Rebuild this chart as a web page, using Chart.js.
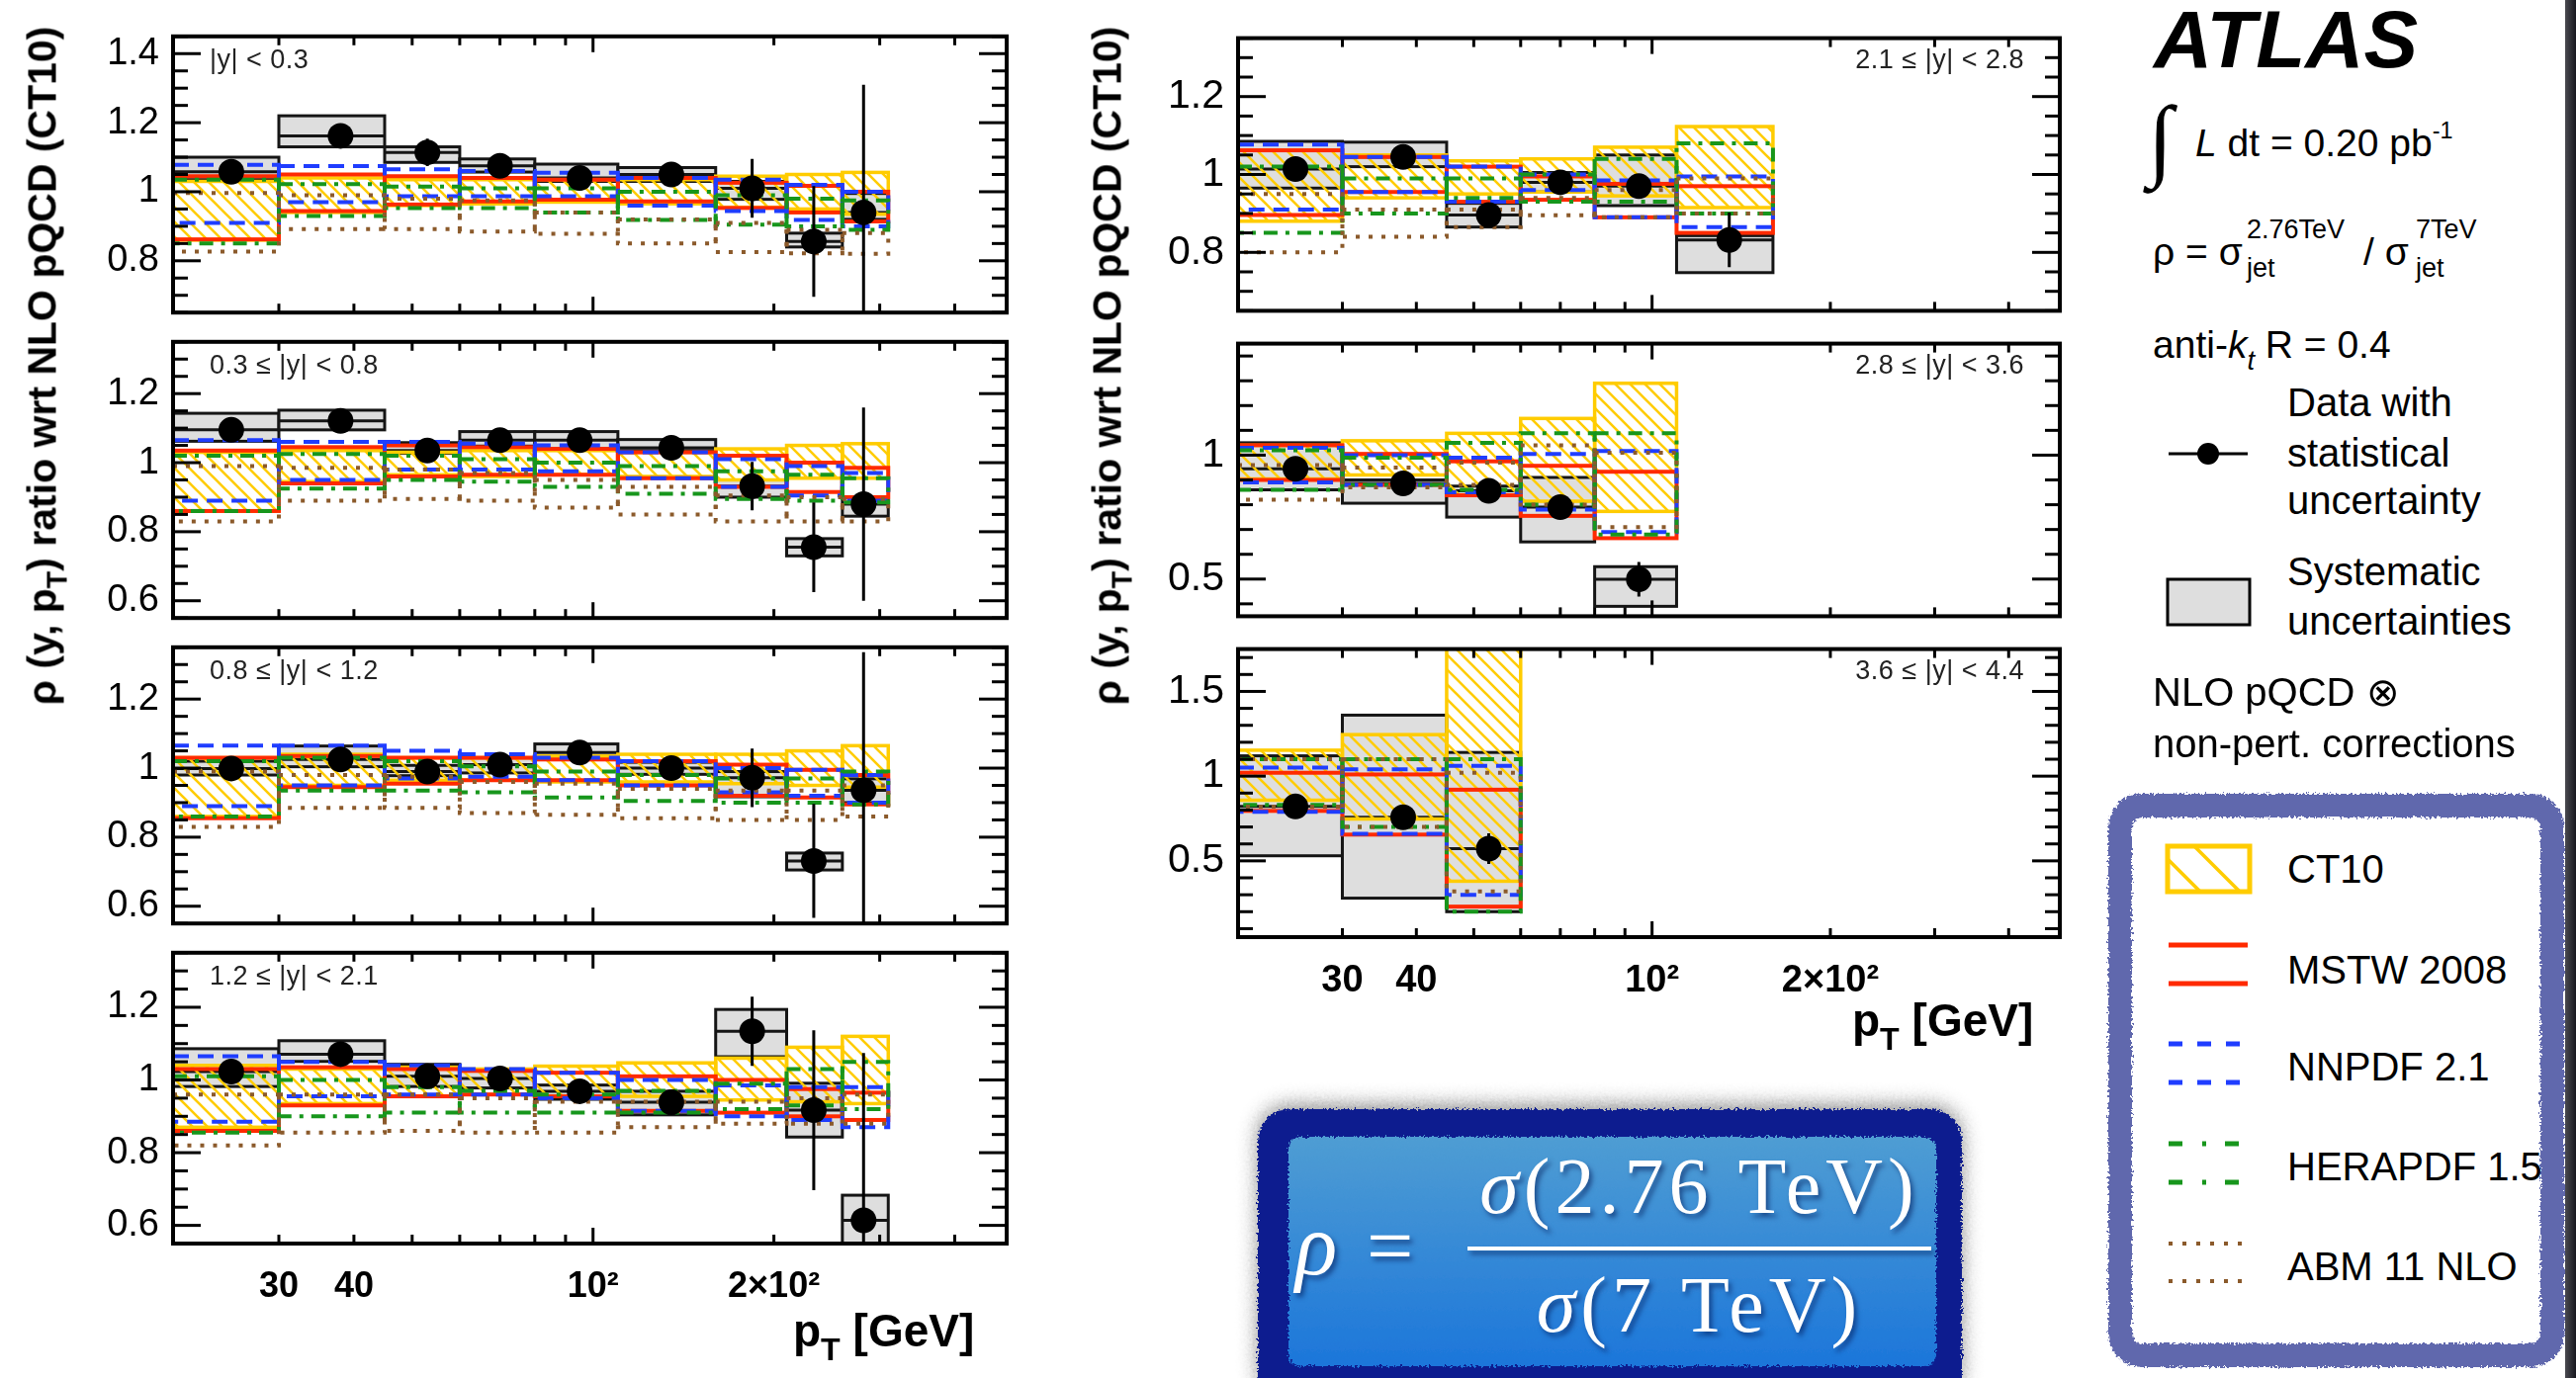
<!DOCTYPE html>
<html>
<head>
<meta charset="utf-8">
<title>Inclusive jet cross-section ratio 2.76 TeV / 7 TeV</title>
<script src="https://cdn.jsdelivr.net/npm/chart.js@4.4.1/dist/chart.umd.min.js"></script>
<style>
  html, body { margin: 0; padding: 0; background: #fff; overflow: hidden; }
  #page { position: relative; width: 2605px; height: 1394px; overflow: hidden; background: #fff;
          font-family: "Liberation Sans", Arial, Helvetica, sans-serif; color: #000; }
  canvas.pad { position: absolute; }
  .txt { position: absolute; white-space: nowrap; line-height: 1; }
  .txt sub { font-size: 0.7em; vertical-align: -0.45em; line-height: 0; }
  .txt sup { font-size: 0.6em; vertical-align: 0.75em; line-height: 0; }
  .ytitle { position: absolute; white-space: nowrap; font-weight: bold; font-size: 41px; line-height: 1;
            transform: translate(-50%, -50%) rotate(-90deg); }
  .ytitle sub { font-size: 0.7em; vertical-align: -0.4em; line-height: 0; }
  .rap { font-size: 27px; color: #222; letter-spacing: 0.5px; }
  #legendFrame { position: absolute; left: 2132px; top: 803px; width: 461px; height: 580px; box-sizing: border-box;
                 border: 24px solid #6068ad; border-radius: 34px; background: #fff; filter: url(#rough); }
  #formulaOuter { position: absolute; left: 1272px; top: 1122px; width: 712px; height: 300px; border-radius: 32px;
                  background: #0b1f8f; box-shadow: 0 -4px 20px rgba(0,0,0,0.45); filter: url(#rough); }
  #formulaInner { position: absolute; left: 1303px; top: 1150px; width: 655px; height: 232px; border-radius: 12px;
                  background: linear-gradient(#4f9dd3, #1c76da); filter: url(#rough); }
  .tex { position: absolute; white-space: nowrap; line-height: 1; color: #fff;
         font-family: "Liberation Serif", "DejaVu Serif", serif; text-shadow: 3px 4px 5px rgba(0, 20, 80, 0.55); }
  #fracBar { position: absolute; left: 1484px; top: 1261px; width: 469px; height: 4px; background: #fff;
             box-shadow: 3px 4px 5px rgba(0, 20, 80, 0.55); }
  #edge { position: absolute; left: 2594px; top: 0; width: 11px; height: 1394px;
          background: linear-gradient(to right, #4a4a50, #17171f); }
</style>
</head>
<body>
<svg width="0" height="0" style="position:absolute">
  <filter id="rough" x="-5%" y="-5%" width="110%" height="110%">
    <feTurbulence type="fractalNoise" baseFrequency="0.4" numOctaves="2" seed="3" result="noise"/>
    <feDisplacementMap in="SourceGraphic" in2="noise" scale="7" xChannelSelector="R" yChannelSelector="G"/>
  </filter>
</svg>
<div id="page">
  <div id="legendFrame"></div>
  <div id="formulaOuter"></div>
  <div id="formulaInner"></div>
  <div id="fracBar"></div>
  <div id="edge"></div>
  <canvas id="legendMarks" width="140" height="900" style="position:absolute;left:2170px;top:420px"></canvas>
</div>
<script>
// pT binning shared by all rapidity slices
const PT_EDGES = [20, 30, 45, 60, 80, 110, 160, 210, 260, 310];
const PT_MEAN = [25, 38, 53, 70, 95, 135, 184, 233, 282];
const PT_MIN = 20;
const PT_MAX = 488;
const X_TICK_VALUES = [30, 40, 100, 200];
const X_TICK_LABELS = ["30", "40", "10²", "2×10²"];
const X_TICK_MARKS = [30, 40, 50, 60, 70, 80, 90, 100, 200, 300, 400];

const RAPIDITY_BINS = ["|y| < 0.3", "0.3 ≤ |y| < 0.8", "0.8 ≤ |y| < 1.2", "1.2 ≤ |y| < 2.1",
                       "2.1 ≤ |y| < 2.8", "2.8 ≤ |y| < 3.6", "3.6 ≤ |y| < 4.4"];

const Y_MIN = [0.65, 0.55, 0.55, 0.55, 0.65, 0.35, 0.05];
const Y_MAX = [1.45, 1.35, 1.35, 1.35, 1.35, 1.45, 1.75];
const Y_TICK_VALUES = [[0.8, 1, 1.2, 1.4], [0.6, 0.8, 1, 1.2], [0.6, 0.8, 1, 1.2], [0.6, 0.8, 1, 1.2],
                       [0.8, 1, 1.2], [0.5, 1], [0.5, 1, 1.5]];
const Y_MINOR_STEP = [0.05, 0.05, 0.05, 0.05, 0.05, 0.1, 0.1];

// measured ratio rho(y, pT) / NLO(CT10) with statistical errors
const RHO = [
  [1.058, 1.162, 1.114, 1.075, 1.04, 1.05, 1.01, 0.856, 0.94],
  [1.095, 1.121, 1.035, 1.065, 1.065, 1.043, 0.932, 0.755, 0.88],
  [0.999, 1.025, 0.99, 1.01, 1.045, 1.0, 0.972, 0.731, 0.936],
  [1.023, 1.071, 1.01, 1.004, 0.969, 0.939, 1.134, 0.917, 0.614],
  [1.014, 1.045, 0.896, 0.98, 0.97, 0.832],
  [0.945, 0.886, 0.856, 0.79, 0.499],
  [0.821, 0.757, 0.572]
];
const STAT = [
  [0.01, 0.035, 0.04, 0.02, 0.015, 0.02, 0.085, 0.16, 0.37],
  [0.01, 0.02, 0.015, 0.015, 0.015, 0.02, 0.07, 0.13, 0.28],
  [0.01, 0.02, 0.015, 0.015, 0.015, 0.02, 0.085, 0.165, 0.4],
  [0.01, 0.015, 0.015, 0.015, 0.015, 0.02, 0.095, 0.22, 0.46],
  [0.01, 0.015, 0.015, 0.015, 0.02, 0.07],
  [0.015, 0.02, 0.02, 0.03, 0.07],
  [0.02, 0.03, 0.09]
];
const SYST_LO = [
  [1.035, 1.13, 1.085, 1.057, 1.03, 1.03, 0.978, 0.84, 0.92],
  [1.062, 1.095, 1.027, 1.048, 1.04, 1.035, 0.9, 0.73, 0.845],
  [0.98, 1.004, 0.978, 0.986, 1.025, 0.982, 0.917, 0.705, 0.9],
  [0.982, 1.051, 0.982, 0.978, 0.947, 0.904, 1.064, 0.843, 0.549],
  [0.965, 1.02, 0.865, 0.955, 0.92, 0.748],
  [0.86, 0.806, 0.75, 0.65, 0.39],
  [0.53, 0.28, 0.2]
];
const SYST_HI = [
  [1.1, 1.22, 1.13, 1.095, 1.08, 1.07, 1.03, 0.88, 0.995],
  [1.143, 1.152, 1.058, 1.09, 1.09, 1.067, 0.95, 0.78, 0.9],
  [1.02, 1.064, 1.008, 1.03, 1.07, 1.017, 0.99, 0.754, 0.969],
  [1.086, 1.108, 1.043, 1.03, 0.986, 0.969, 1.194, 0.991, 0.683],
  [1.085, 1.083, 0.926, 1.005, 1.05, 0.843],
  [1.05, 0.9, 0.875, 0.91, 0.55],
  [1.12, 1.36, 1.14]
];

// NLO pQCD x non-perturbative corrections, uncertainty bands per PDF set
const CT10_LO = [
  [0.86, 0.94, 0.96, 0.965, 0.97, 0.965, 0.955, 0.95, 0.935],
  [0.86, 0.945, 0.965, 0.96, 0.965, 0.96, 0.95, 0.955, 0.955],
  [0.86, 0.95, 0.965, 0.965, 0.96, 0.96, 0.955, 0.95, 0.945],
  [0.87, 0.935, 0.955, 0.96, 0.955, 0.955, 0.945, 0.94, 0.935],
  [0.88, 0.94, 0.95, 0.955, 0.945, 0.915],
  [0.904, 0.92, 0.838, 0.814, 0.773],
  [0.858, 0.747, 0.38]
];
const CT10_HI = [
  [1.03, 1.04, 1.035, 1.035, 1.035, 1.035, 1.045, 1.05, 1.056],
  [1.03, 1.035, 1.03, 1.035, 1.035, 1.03, 1.04, 1.05, 1.055],
  [1.03, 1.04, 1.03, 1.03, 1.035, 1.04, 1.04, 1.05, 1.065],
  [1.04, 1.03, 1.035, 1.03, 1.038, 1.047, 1.06, 1.09, 1.12],
  [1.062, 1.05, 1.035, 1.04, 1.07, 1.123],
  [1.04, 1.058, 1.088, 1.148, 1.29],
  [1.153, 1.245, 1.8]
];
const MSTW_LO = [
  [0.862, 0.944, 0.963, 0.972, 0.977, 0.972, 0.953, 0.94, 0.914],
  [0.86, 0.94, 0.96, 0.965, 0.965, 0.955, 0.93, 0.915, 0.9],
  [0.855, 0.945, 0.955, 0.965, 0.965, 0.95, 0.92, 0.915, 0.895],
  [0.86, 0.93, 0.955, 0.96, 0.955, 0.915, 0.91, 0.9, 0.89],
  [0.896, 0.955, 0.93, 0.935, 0.89, 0.85],
  [0.9, 0.88, 0.838, 0.755, 0.665],
  [0.795, 0.655, 0.23]
];
const MSTW_HI = [
  [1.045, 1.05, 1.045, 1.04, 1.035, 1.04, 1.026, 1.017, 1.0],
  [1.035, 1.045, 1.05, 1.045, 1.04, 1.03, 1.02, 1.0, 0.985],
  [1.03, 1.035, 1.03, 1.03, 1.025, 1.02, 1.01, 0.995, 0.98],
  [1.03, 1.035, 1.03, 1.025, 1.02, 1.01, 1.0, 0.975, 0.965],
  [1.062, 1.045, 1.02, 0.995, 0.976, 0.97],
  [1.04, 1.005, 0.975, 0.957, 0.933],
  [1.02, 1.01, 0.92]
];
const NNPDF_LO = [
  [0.91, 0.97, 0.987, 0.987, 0.987, 0.96, 0.944, 0.918, 0.9],
  [0.89, 0.95, 0.98, 0.98, 0.975, 0.955, 0.93, 0.905, 0.89],
  [0.89, 0.95, 0.97, 0.975, 0.965, 0.95, 0.93, 0.92, 0.9],
  [0.885, 0.955, 0.96, 0.96, 0.95, 0.915, 0.9, 0.89, 0.87],
  [0.91, 0.955, 0.93, 0.96, 0.89, 0.865],
  [0.89, 0.88, 0.85, 0.78, 0.69],
  [0.79, 0.66, 0.3]
];
const NNPDF_HI = [
  [1.078, 1.074, 1.065, 1.06, 1.055, 1.04, 1.035, 1.02, 1.0],
  [1.065, 1.06, 1.06, 1.055, 1.05, 1.03, 1.01, 0.99, 0.97],
  [1.065, 1.065, 1.05, 1.04, 1.03, 1.02, 1.0, 0.995, 0.98],
  [1.065, 1.05, 1.04, 1.03, 1.02, 1.0, 0.985, 0.98, 0.98],
  [1.077, 1.045, 1.02, 1.0, 0.985, 0.995],
  [1.03, 1.0, 0.99, 1.005, 1.017],
  [1.05, 1.04, 1.06]
];
const HERA_LO = [
  [0.85, 0.93, 0.953, 0.953, 0.94, 0.918, 0.905, 0.9, 0.89],
  [0.86, 0.925, 0.95, 0.945, 0.93, 0.91, 0.895, 0.89, 0.885],
  [0.86, 0.935, 0.935, 0.93, 0.915, 0.905, 0.9, 0.9, 0.895],
  [0.855, 0.9, 0.91, 0.91, 0.91, 0.91, 0.92, 0.93, 0.92],
  [0.85, 0.9, 0.94, 0.93, 0.93, 0.9],
  [0.86, 0.88, 0.86, 0.8, 0.68],
  [0.83, 0.7, 0.2]
];
const HERA_HI = [
  [1.035, 1.022, 1.015, 1.01, 1.01, 1.0, 0.99, 0.98, 0.975],
  [1.02, 1.025, 1.02, 1.01, 1.0, 0.99, 0.975, 0.965, 0.955],
  [1.02, 1.03, 1.02, 1.005, 0.99, 0.98, 0.97, 0.97, 0.99],
  [1.01, 1.0, 0.98, 0.97, 0.96, 0.97, 0.99, 1.03, 1.05],
  [1.02, 0.99, 0.99, 1.0, 1.04, 1.08],
  [1.02, 0.99, 1.05, 1.088, 1.088],
  [1.1, 1.1, 1.1]
];
const ABM_LO = [
  [0.827, 0.892, 0.892, 0.885, 0.878, 0.85, 0.825, 0.822, 0.82],
  [0.83, 0.89, 0.895, 0.89, 0.87, 0.85, 0.83, 0.83, 0.83],
  [0.83, 0.885, 0.885, 0.87, 0.865, 0.855, 0.85, 0.85, 0.86],
  [0.82, 0.855, 0.86, 0.855, 0.855, 0.87, 0.88, 0.88, 0.88],
  [0.8, 0.84, 0.865, 0.895, 0.89, 0.9],
  [0.82, 0.87, 0.88, 0.8, 0.71],
  [0.82, 0.7, 0.32]
];
const ABM_HI = [
  [0.996, 0.99, 0.98, 0.975, 0.94, 0.92, 0.91, 0.89, 0.88],
  [0.99, 0.985, 0.98, 0.97, 0.95, 0.93, 0.905, 0.9, 0.895],
  [0.99, 0.98, 0.975, 0.96, 0.955, 0.94, 0.935, 0.935, 0.95],
  [0.96, 0.96, 0.96, 0.95, 0.94, 0.94, 0.94, 0.95, 0.96],
  [0.95, 0.91, 0.91, 0.94, 0.96, 0.99],
  [0.96, 0.95, 0.97, 1.04, 1.01],
  [1.1, 1.1, 1.02]
];

// page geometry of each pad frame: [left, top, right, bottom]
const PADS = [
  [175, 22, 1018, 331], [175, 331, 1018, 640], [175, 640, 1018, 949], [175, 949, 1018, 1258],
  [1252, 22, 2083, 331], [1252, 331, 2083, 640], [1252, 640, 2083, 948]
];
const HAS_X_LABELS = [false, false, false, true, false, false, true];

const COLORS = {
  ct10: "#ffcc00", mstw: "#ff2a00", nnpdf: "#1f3dff", hera: "#17961c", abm: "#8b5a2b", syst: "#dedede"
};
const OUTLINES = [
  { lo: MSTW_LO, hi: MSTW_HI, color: COLORS.mstw, dash: [] },
  { lo: NNPDF_LO, hi: NNPDF_HI, color: COLORS.nnpdf, dash: [16, 9] },
  { lo: HERA_LO, hi: HERA_HI, color: COLORS.hera, dash: [14, 8, 4, 8] },
  { lo: ABM_LO, hi: ABM_HI, color: COLORS.abm, dash: [4, 9] }
];

const page = document.getElementById("page");

function makeHatch() {
  const t = document.createElement("canvas");
  t.width = t.height = 15;
  const c = t.getContext("2d");
  c.strokeStyle = COLORS.ct10;
  c.lineWidth = 2.6;
  c.beginPath();
  c.moveTo(-3, -3); c.lineTo(18, 18);
  c.moveTo(-3, 12); c.lineTo(3, 18);
  c.moveTo(12, -3); c.lineTo(18, 3);
  c.stroke();
  return c.createPattern(t, "repeat");
}
const hatch = makeHatch();

function seg(ctx, x0, y0, x1, y1) {
  ctx.beginPath(); ctx.moveTo(x0, y0); ctx.lineTo(x1, y1); ctx.stroke();
}

const ratioPadPlugin = {
  id: "ratioPad",
  beforeDatasetsDraw(chart, args, opts) {
    const p = opts.pad;
    const { ctx, chartArea: a } = chart;
    const xs = chart.scales.x, ys = chart.scales.y;
    const n = RHO[p].length;
    const edges = i => [xs.getPixelForValue(PT_EDGES[i]), xs.getPixelForValue(PT_EDGES[i + 1])];

    ctx.save();
    ctx.beginPath();
    ctx.rect(a.left, a.top, a.right - a.left, a.bottom - a.top);
    ctx.clip();

    // systematic uncertainty boxes
    ctx.lineWidth = 3;
    ctx.strokeStyle = "#151515";
    for (let i = 0; i < n; i++) {
      const [x0, x1] = edges(i);
      const yt = ys.getPixelForValue(SYST_HI[p][i]);
      const yb = ys.getPixelForValue(SYST_LO[p][i]);
      ctx.fillStyle = COLORS.syst;
      ctx.fillRect(x0, yt, x1 - x0, yb - yt);
      ctx.strokeRect(x0, yt, x1 - x0, yb - yt);
      const yc = ys.getPixelForValue(RHO[p][i]);
      seg(ctx, x0, yc, x1, yc);
    }

    // CT10 band, hatched
    ctx.lineWidth = 3.5;
    ctx.strokeStyle = COLORS.ct10;
    for (let i = 0; i < n; i++) {
      const [x0, x1] = edges(i);
      const yt = ys.getPixelForValue(CT10_HI[p][i]);
      const yb = ys.getPixelForValue(CT10_LO[p][i]);
      ctx.fillStyle = hatch;
      ctx.fillRect(x0, yt, x1 - x0, yb - yt);
      ctx.strokeRect(x0, yt, x1 - x0, yb - yt);
    }

    // other PDF sets as open boxes
    ctx.lineWidth = 4;
    for (const m of OUTLINES) {
      ctx.strokeStyle = m.color;
      ctx.setLineDash(m.dash);
      for (let i = 0; i < n; i++) {
        const [x0, x1] = edges(i);
        const yt = ys.getPixelForValue(m.hi[p][i]);
        const yb = ys.getPixelForValue(m.lo[p][i]);
        ctx.strokeRect(x0, yt, x1 - x0, yb - yt);
      }
    }
    ctx.setLineDash([]);

    // statistical error bars
    ctx.lineWidth = 3;
    ctx.strokeStyle = "#000";
    for (let i = 0; i < n; i++) {
      const px = xs.getPixelForValue(PT_MEAN[i]);
      seg(ctx, px, ys.getPixelForValue(RHO[p][i] + STAT[p][i]), px, ys.getPixelForValue(RHO[p][i] - STAT[p][i]));
    }
    ctx.restore();
  },
  afterDraw(chart, args, opts) {
    const p = opts.pad;
    const { ctx, chartArea: a } = chart;
    const xs = chart.scales.x, ys = chart.scales.y;
    ctx.save();
    ctx.strokeStyle = "#000";
    ctx.lineWidth = 3;
    const step = Y_MINOR_STEP[p];
    for (let k = Math.ceil(Y_MIN[p] / step - 1e-6); k * step <= Y_MAX[p] + 1e-9; k++) {
      const v = k * step;
      const major = Y_TICK_VALUES[p].some(t => Math.abs(t - v) < 1e-6);
      const len = major ? 28 : 15;
      const py = ys.getPixelForValue(v);
      seg(ctx, a.left, py, a.left + len, py);
      seg(ctx, a.right, py, a.right - len, py);
    }
    for (const v of X_TICK_MARKS) {
      const px = xs.getPixelForValue(v);
      const len = v === 100 ? 16 : 9;
      seg(ctx, px, a.top, px, a.top + len);
      seg(ctx, px, a.bottom, px, a.bottom - len);
    }
    ctx.lineWidth = 4;
    ctx.strokeRect(a.left, a.top, a.right - a.left, a.bottom - a.top);
    ctx.restore();
  }
};

function makePad(p) {
  const [l, t, r, b] = PADS[p];
  const padL = 110, padR = 14, padT = 14, padB = 14;
  const xLab = HAS_X_LABELS[p] ? 74 : 0;
  const rightCol = p >= 4;
  const canvas = document.createElement("canvas");
  canvas.className = "pad";
  canvas.width = r - l + padL + padR;
  canvas.height = b - t + padT + padB + xLab;
  canvas.style.left = (l - padL) + "px";
  canvas.style.top = (t - padT) + "px";
  page.insertBefore(canvas, page.firstChild);

  new Chart(canvas, {
    type: "scatter",
    data: {
      datasets: [{
        data: RHO[p].map((v, i) => ({ x: PT_MEAN[i], y: v })),
        pointRadius: 13,
        pointHoverRadius: 13,
        backgroundColor: "#000",
        borderWidth: 0
      }]
    },
    options: {
      responsive: false,
      animation: false,
      devicePixelRatio: 1,
      events: [],
      layout: { padding: { left: 0, right: padR, top: padT, bottom: padB } },
      plugins: { legend: { display: false }, tooltip: { enabled: false }, ratioPad: { pad: p } },
      scales: {
        x: {
          type: "logarithmic",
          min: PT_MIN,
          max: PT_MAX,
          display: HAS_X_LABELS[p],
          grid: { display: false },
          border: { display: false },
          afterBuildTicks: s => { s.ticks = X_TICK_VALUES.map(v => ({ value: v })); },
          afterFit: s => { s.height = xLab; },
          ticks: {
            autoSkip: false,
            maxRotation: 0,
            padding: 14,
            color: "#000",
            font: { family: "Liberation Sans", size: rightCol ? 38 : 36, weight: "bold" },
            callback: (v, i) => X_TICK_LABELS[i]
          }
        },
        y: {
          type: "linear",
          min: Y_MIN[p],
          max: Y_MAX[p],
          grid: { display: false },
          border: { display: false },
          afterBuildTicks: s => { s.ticks = Y_TICK_VALUES[p].map(v => ({ value: v })); },
          afterFit: s => { s.width = padL; },
          ticks: {
            padding: 6,
            color: "#000",
            font: { family: "Liberation Sans", size: rightCol ? 41 : 38 },
            callback: v => String(v)
          }
        }
      }
    },
    plugins: [ratioPadPlugin]
  });

  // rapidity slice label
  if (rightCol) addText(RAPIDITY_BINS[p], r - 36, t + 48, 27, "rap", true);
  else addText(RAPIDITY_BINS[p], l + 37, t + 48, 27, "rap");
}

function addText(html, x, baseline, size, cls, alignRight) {
  const d = document.createElement("div");
  d.className = "txt" + (cls ? " " + cls : "");
  d.style.left = x + "px";
  d.style.top = (baseline - 0.85 * size) + "px";
  d.style.fontSize = size + "px";
  if (alignRight) d.style.transform = "translateX(-100%)";
  d.innerHTML = html;
  page.appendChild(d);
  return d;
}

for (let p = 0; p < PADS.length; p++) makePad(p);

// axis titles
for (const cx of [43, 1120]) {
  const d = document.createElement("div");
  d.className = "ytitle";
  d.style.left = cx + "px";
  d.style.top = "370px";
  d.innerHTML = "ρ (y, p<sub>T</sub>) ratio wrt NLO pQCD (CT10)";
  page.appendChild(d);
}
addText("p<sub>T</sub> [GeV]", 802, 1362, 46, null).style.fontWeight = "bold";
addText("p<sub>T</sub> [GeV]", 1873, 1048, 46, null).style.fontWeight = "bold";

// ATLAS label and annotations
addText("ATLAS", 2178, 69, 82, null).style.cssText += "font-weight:bold;font-style:italic;";
addText("∫", 2172, 172, 92, null).style.fontFamily = "Liberation Serif";
addText("<i>L</i> dt = 0.20 pb<sup>-1</sup>", 2220, 158, 39, null);
addText("ρ = σ", 2177, 268, 39, null);
addText("2.76TeV", 2272, 242, 27, null);
addText("jet", 2272, 281, 27, null);
addText("/ σ", 2390, 268, 39, null);
addText("7TeV", 2443, 242, 27, null);
addText("jet", 2443, 281, 27, null);
addText("anti-<i>k<sub>t</sub></i> R = 0.4", 2177, 362, 39, null);
addText("Data with", 2313, 421, 40, null);
addText("statistical", 2313, 472, 40, null);
addText("uncertainty", 2313, 520, 40, null);
addText("Systematic", 2313, 592, 40, null);
addText("uncertainties", 2313, 642, 40, null);
addText("NLO pQCD ⊗", 2177, 714, 40, null);
addText("non-pert. corrections", 2177, 766, 40, null);
addText("CT10", 2313, 893, 40, null);
addText("MSTW 2008", 2313, 995, 40, null);
addText("NNPDF 2.1", 2313, 1093, 40, null);
addText("HERAPDF 1.5", 2313, 1194, 40, null);
addText("ABM 11 NLO", 2313, 1295, 40, null);

// rho definition
function addTex(html, x, baseline, size, extra) {
  const d = document.createElement("div");
  d.className = "tex";
  d.style.cssText += `left:${x}px;top:${baseline - 0.84 * size}px;font-size:${size}px;${extra || ""}`;
  d.innerHTML = html;
  page.appendChild(d);
}
addTex("<i>ρ</i>", 1310, 1290, 88);
addTex("=", 1382, 1290, 84);
addTex("<i>σ</i>(2.76 TeV)", 1484, 1227, 80, "width:469px;text-align:center;letter-spacing:5px;");
addTex("<i>σ</i>(7 TeV)", 1484, 1347, 80, "width:469px;text-align:center;letter-spacing:5px;");

// legend symbols
function drawLegendSymbols() {
  const c = document.getElementById("legendMarks");
  const g = c.getContext("2d");
  g.translate(-2170, -420);
  g.strokeStyle = "#000";
  g.lineWidth = 3;
  seg(g, 2193, 459, 2273, 459);
  g.fillStyle = "#000";
  g.beginPath(); g.arc(2233, 459, 11, 0, Math.PI * 2); g.fill();

  g.fillStyle = COLORS.syst;
  g.fillRect(2192, 586, 83, 46);
  g.strokeRect(2192, 586, 83, 46);

  g.save();
  g.beginPath(); g.rect(2192, 856, 83, 46); g.clip();
  g.strokeStyle = COLORS.ct10;
  g.lineWidth = 3.5;
  seg(g, 2185, 862, 2225, 902);
  seg(g, 2215, 852, 2265, 902);
  g.restore();
  g.strokeStyle = COLORS.ct10;
  g.lineWidth = 5;
  g.strokeRect(2192, 856, 83, 46);

  const pairs = [
    [COLORS.mstw, [], 956, 995, 5],
    [COLORS.nnpdf, [14, 15], 1056, 1095, 5],
    [COLORS.hera, [14, 20, 4, 19], 1157, 1196, 5],
    [COLORS.abm, [4, 10], 1258, 1296, 4]
  ];
  for (const [col, dash, y0, y1, w] of pairs) {
    g.strokeStyle = col;
    g.lineWidth = w;
    g.setLineDash(dash);
    seg(g, 2193, y0, 2273, y0);
    seg(g, 2193, y1, 2273, y1);
  }
  g.setLineDash([]);
}
drawLegendSymbols();
</script>
</body>
</html>
